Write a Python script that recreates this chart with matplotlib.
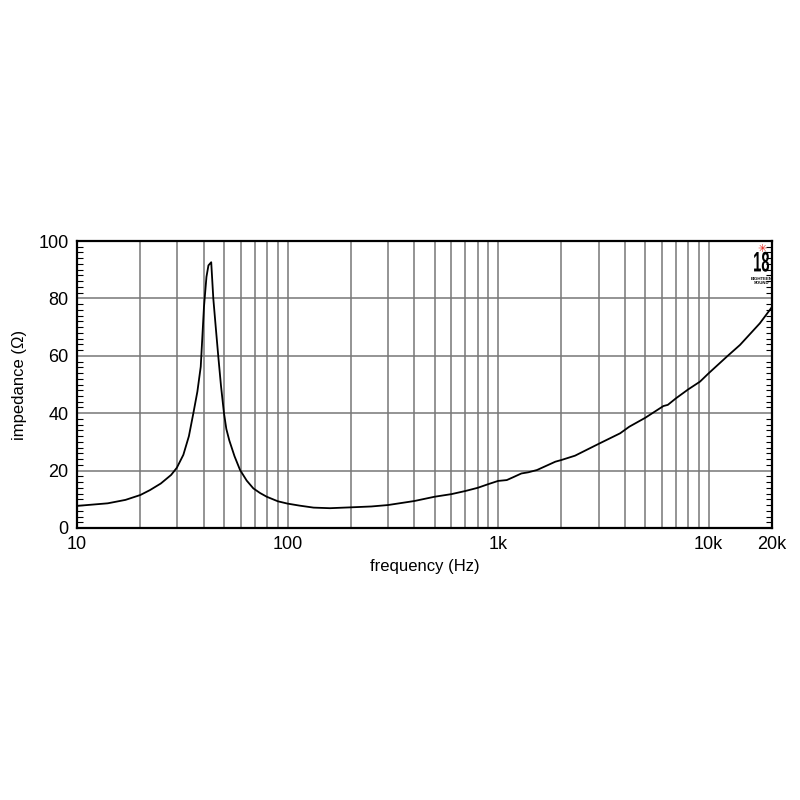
import matplotlib

matplotlib.use("Agg")
import matplotlib.pyplot as plt
import numpy as np
from matplotlib.font_manager import FontProperties
from matplotlib.patches import PathPatch
from matplotlib.textpath import TextPath
from matplotlib.transforms import Affine2D
from matplotlib.ticker import FixedLocator, MultipleLocator, NullLocator

# impedance curve (Hz, ohm)
freq = [10, 14, 17, 20, 22.2, 25, 28, 29.8, 32, 34, 35.7, 37.3, 38.7, 40.1,
        41.2, 42.1, 43.4, 44.4, 45.6, 46.9, 48.3, 49.9, 51.2, 52.9, 56, 59.5,
        64, 68.8, 74, 79.6, 90, 100, 114, 133, 159, 200, 250, 300, 400, 500,
        600, 700, 800, 900, 1000, 1100, 1180, 1290, 1390, 1530, 1870, 2000,
        2320, 3000, 3800, 4200, 5000, 6100, 6400, 7000, 8000, 9100, 10000,
        12200, 14100, 17500, 20000]
impedance = [7.7, 8.6, 9.8, 11.5, 13.2, 15.5, 18.5, 21.0, 25.5, 32.0, 40.0,
             47.5, 56.2, 77.1, 87.5, 91.5, 92.6, 80.0, 70.0, 59.7, 49.5, 40.0,
             34.5, 30.5, 25.0, 20.2, 16.5, 13.8, 12.2, 10.9, 9.3, 8.5, 7.8,
             7.1, 6.9, 7.2, 7.5, 8.0, 9.4, 10.9, 11.8, 12.9, 14.0, 15.3, 16.4,
             16.7, 17.7, 19.0, 19.4, 20.2, 23.1, 23.7, 25.2, 29.3, 33.0, 35.3,
             38.4, 42.5, 42.9, 45.2, 48.3, 51.0, 53.9, 59.7, 63.8, 71.3, 77.0]

x_grid = [20, 30, 40, 50, 60, 70, 80, 90, 100, 200, 300, 400, 500, 600, 700,
          800, 900, 1000, 2000, 3000, 4000, 5000, 6000, 7000, 8000, 9000, 10000]
x_ticks = [10, 100, 1000, 10000, 20000]
x_labels = ["10", "100", "1k", "10k", "20k"]
y_ticks = [0, 20, 40, 60, 80, 100]

plt.rcParams["font.family"] = ["Liberation Sans", "DejaVu Sans"]

fig = plt.figure(figsize=(8, 8), dpi=100)
ax = fig.add_axes([0.09625, 0.34, 0.86875, 0.35875])

for xv in x_grid:
    ax.axvline(xv, color="#777777", linewidth=1.1, zorder=1)
for yv in y_ticks[1:-1]:
    ax.axhline(yv, color="#777777", linewidth=1.1, zorder=1)

ax.plot(freq, impedance, color="black", linewidth=1.3, zorder=3)

ax.set_xscale("log")
ax.set_xlim(10, 20000)
ax.set_ylim(0, 100)

ax.xaxis.set_major_locator(FixedLocator(x_ticks))
ax.xaxis.set_minor_locator(NullLocator())
ax.set_xticklabels(x_labels)
ax.set_yticks(y_ticks)
ax.yaxis.set_minor_locator(MultipleLocator(2))

ax.tick_params(axis="x", which="both", length=0, labelsize=13, pad=6)
ax.tick_params(axis="y", which="major", length=0, labelsize=13, pad=6)
ax.tick_params(axis="y", which="minor", direction="in", length=4,
               width=0.8, left=True, right=True)

for sp in ax.spines.values():
    sp.set_linewidth(1.6)

ax.set_xlabel("frequency (Hz)", fontsize=12, labelpad=4)
ax.set_ylabel("impedance (Ω)", fontsize=12, labelpad=8)

# brand logo in the top right corner (narrow bold "18" drawn as a path)
LOGO_X = 0.985
ax.text(LOGO_X, 0.99, "✳", transform=ax.transAxes, color="#e2231a",
        fontsize=8, ha="center", va="top", family="DejaVu Sans")

tp = TextPath((0, 0), "18", size=1,
              prop=FontProperties(family="Liberation Sans", weight="bold"))
bb = tp.get_extents()
w_px, h_px = 15.0, 20.0
ax_w = fig.get_figwidth() * fig.dpi * 0.86875
ax_h = fig.get_figheight() * fig.dpi * 0.35875
sx = (w_px / ax_w) / bb.width
sy = (h_px / ax_h) / bb.height
tr = (Affine2D().translate(-bb.x0 - bb.width / 2, -bb.y0)
      .scale(sx, sy).translate(LOGO_X, 0.893) + ax.transAxes)
ax.add_patch(PathPatch(tp, transform=tr, facecolor="black",
                       edgecolor="none", clip_on=False, zorder=5))

ax.text(LOGO_X, 0.875, "EIGHTEEN\nSOUND", transform=ax.transAxes,
        color="black", fontsize=3.2, fontweight="bold", ha="center",
        va="top", linespacing=1.0)

fig.savefig("out.png", dpi=100)
